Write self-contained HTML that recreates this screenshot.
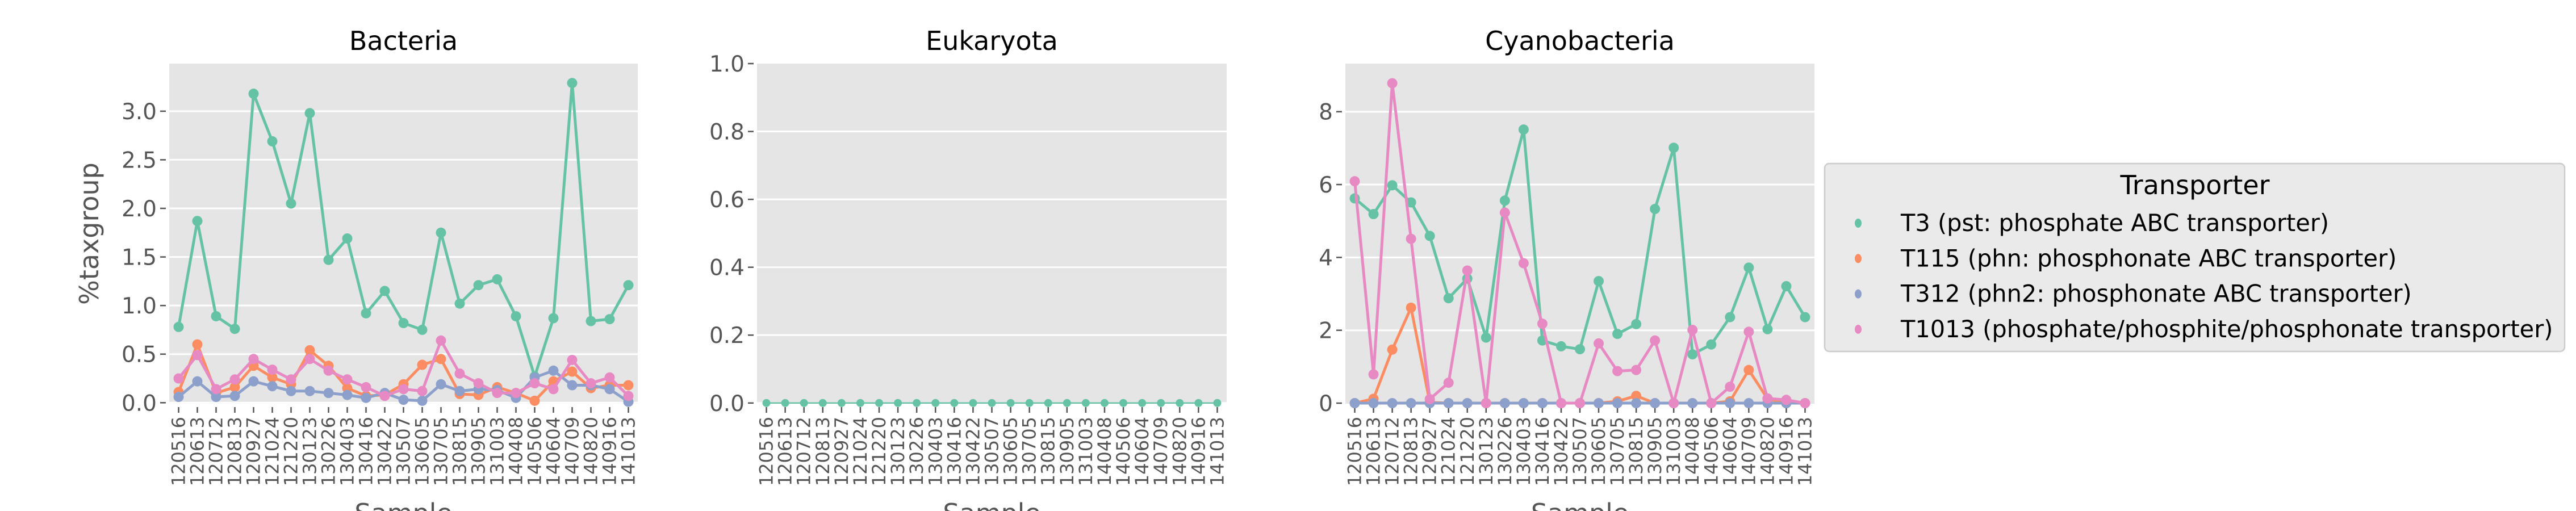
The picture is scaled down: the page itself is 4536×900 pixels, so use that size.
<!DOCTYPE html>
<html><head><meta charset="utf-8"><style>
html,body{margin:0;padding:0;background:#fff;width:4536px;height:900px;overflow:hidden}
svg text{font-family:"DejaVu Sans","Liberation Sans",sans-serif}
</style></head><body>
<svg id="fig" width="4536" height="900" xmlns="http://www.w3.org/2000/svg"></svg>
<script>
const categories=["120516","120613","120712","120813","120927","121024","121220","130123","130226","130403","130416","130422","130507","130605","130705","130815","130905","131003","140408","140506","140604","140709","140820","140916","141013"];
const seriesNames=["T3 (pst: phosphate ABC transporter)","T115 (phn: phosphonate ABC transporter)","T312 (phn2: phosphonate ABC transporter)","T1013 (phosphate/phosphite/phosphonate transporter)"];
const seriesColors=["#66c2a5","#fc8d62","#8da0cb","#e78ac3"];
const bactT3=[0.78,1.87,0.89,0.76,3.18,2.69,2.05,2.98,1.47,1.69,0.92,1.15,0.82,0.75,1.75,1.02,1.21,1.27,0.89,0.27,0.87,3.29,0.84,0.86,1.21];
const bactT115=[0.11,0.60,0.10,0.16,0.38,0.26,0.19,0.54,0.38,0.15,0.07,0.08,0.19,0.39,0.45,0.09,0.08,0.16,0.10,0.02,0.22,0.32,0.15,0.18,0.18];
const bactT312=[0.06,0.22,0.06,0.07,0.22,0.17,0.12,0.12,0.10,0.08,0.05,0.10,0.03,0.02,0.19,0.12,0.14,0.13,0.05,0.26,0.33,0.18,0.18,0.14,0.01];
const bactT1013=[0.25,0.49,0.14,0.24,0.45,0.34,0.24,0.45,0.33,0.24,0.16,0.07,0.14,0.12,0.64,0.30,0.20,0.10,0.10,0.20,0.14,0.44,0.20,0.26,0.07];
const eukT3=[0,0,0,0,0,0,0,0,0,0,0,0,0,0,0,0,0,0,0,0,0,0,0,0,0];
const cyanoT3=[5.62,5.19,5.98,5.51,4.59,2.88,3.42,1.80,5.56,7.51,1.72,1.56,1.48,3.35,1.90,2.17,5.33,7.01,1.34,1.61,2.36,3.72,2.03,3.21,2.36];
const cyanoT115=[0,0.12,1.47,2.62,0.02,0,0,0,0,0,0,0,0,0,0.05,0.2,0,0,0,0,0.05,0.91,0.12,0,0];
const cyanoT312=[0,0,0,0,0,0,0,0,0,0,0,0,0,0,0,0,0,0,0,0,0,0,0,0,0];
const cyanoT1013=[6.09,0.79,8.78,4.51,0.11,0.56,3.64,0,5.23,3.84,2.18,0,0,1.64,0.88,0.91,1.72,0,2.01,0,0.45,1.96,0.13,0.09,0];
const bactTicks=["0.0","0.5","1.0","1.5","2.0","2.5","3.0"];
const eukTicks=["0.0","0.2","0.4","0.6","0.8","1.0"];
const cyanoTicks=["0","2","4","6","8"];

const NS="http://www.w3.org/2000/svg";
const svg=document.getElementById('fig');
function el(tag,attrs,parent,text){const e=document.createElementNS(NS,tag);for(const k in attrs)e.setAttribute(k,attrs[k]);if(text!==undefined)e.textContent=text;(parent||svg).appendChild(e);return e;}

function panel(key,title,x0,x1,ymin,ymax,ticks,series,r,lw,ylabel){
  const top=112,bot=711;
  const g=el('g',{});
  
  
  const xs=i=>x0+(i+0.5)*(x1-x0)/categories.length;
  const ys=v=>bot-(v-ymin)/(ymax-ymin)*(bot-top);
  const bg=el('rect',{x:x0,y:top,width:x1-x0,height:bot-top,fill:'#e5e5e5'},g);
  
  
  ticks.forEach(t=>{
    const y=ys(parseFloat(t));
    if(y>top+1&&y<bot-1) el('line',{x1:x0,x2:x1,y1:y,y2:y,stroke:'#fff',"stroke-width":3},g);
    el('line',{x1:x0-16,x2:x0-6,y1:y,y2:y,stroke:'#555',"stroke-width":2.5},g);
    const tl=el('text',{x:x0-22,y:y+14,"text-anchor":"end","font-size":39,fill:'#555'},g,t);
    
    
  });
  categories.forEach((c,i)=>{
    const x=xs(i);
    el('line',{x1:x,x2:x,y1:717,y2:727,stroke:'#555',"stroke-width":2.5},g);
    const tl=el('text',{transform:`translate(${x+11},${734}) rotate(-90)`,"text-anchor":"end","font-size":32,fill:'#555'},g,c);
    
    
  });
  const tt=el('text',{x:(x0+x1)/2,y:88,"text-anchor":"middle","font-size":46,fill:'#000'},g,title);
  
  
  const xl=el('text',{x:(x0+x1)/2,y:920,"text-anchor":"middle","font-size":46,fill:'#555'},g,'Sample');
  
  
  if(ylabel){
    const yl=el('text',{transform:`translate(173,${(top+bot)/2}) rotate(-90)`,"text-anchor":"middle","font-size":46,fill:'#555'},g,ylabel);
    
    
  }
  series.forEach(s=>{
    const sg=el('g',{},g);
    
    
    const pts=s.vals.map((v,i)=>xs(i)+','+ys(v)).join(' ');
    el('polyline',{points:pts,fill:'none',stroke:s.color,"stroke-width":lw,"stroke-linejoin":"round"},sg);
    s.vals.forEach((v,i)=>{
      const c=el('circle',{cx:xs(i),cy:ys(v),r:r,fill:s.color},sg);
      
      
    });
  });
}
panel('bacteria','Bacteria',298,1123,-0.01,3.49,bactTicks,[
  {name:'t3',vals:bactT3,color:seriesColors[0]},
  {name:'t115',vals:bactT115,color:seriesColors[1]},
  {name:'t312',vals:bactT312,color:seriesColors[2]},
  {name:'t1013',vals:bactT1013,color:seriesColors[3]}],9,5,'%taxgroup');
panel('eukaryota','Eukaryota',1333,2160,-0.002,1.0,eukTicks,[
  {name:'t3',vals:eukT3,color:seriesColors[0]}],7,2.5,null);
panel('cyanobacteria','Cyanobacteria',2369,3195,-0.015,9.32,cyanoTicks,[
  {name:'t3',vals:cyanoT3,color:seriesColors[0]},
  {name:'t115',vals:cyanoT115,color:seriesColors[1]},
  {name:'t312',vals:cyanoT312,color:seriesColors[2]},
  {name:'t1013',vals:cyanoT1013,color:seriesColors[3]}],9,5,null);

const lg=el('g',{});


el('rect',{x:3213,y:288,width:1303,height:331,rx:8,fill:'#eaeaea',stroke:'#cccccc',"stroke-width":2.5},lg);
const lt=el('text',{x:3865,y:342,"text-anchor":"middle","font-size":46,fill:'#000'},lg,'Transporter');


seriesNames.forEach((n,i)=>{
  const y=393+i*62.3;
  const eg=el('g',{},lg);
  
  
  el('ellipse',{cx:3272,cy:y,rx:6,ry:8,fill:seriesColors[i]},eg);
  el('text',{x:3347,y:y+14,"font-size":41.5,fill:'#000'},eg,n);
});
</script>
</body></html>
